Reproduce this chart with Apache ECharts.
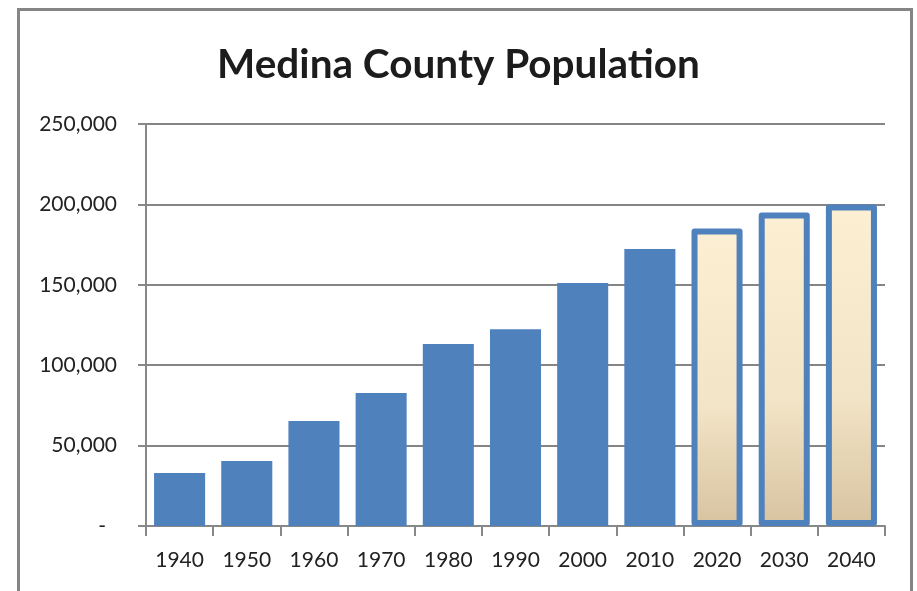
<!DOCTYPE html>
<html>
<head>
<meta charset="utf-8">
<script src="https://cdn.jsdelivr.net/npm/echarts@6/dist/echarts.min.js"></script>
<style>html,body{margin:0;padding:0;background:#fff;}#c{width:917px;height:591px;}</style>
</head>
<body>
<div id="c"></div>
<script>
var years = ['1940','1950','1960','1970','1980','1990','2000','2010','2020','2030','2040'];
var actual = [33034, 40417, 65315, 82717, 113150, 122354, 151095, 172332, null, null, null];
var projected = [null, null, null, null, null, null, null, null, 185000, 195000, 200000];
var yTicks = [0, 50000, 100000, 150000, 200000, 250000];

var chart = echarts.init(document.getElementById('c'));
var font = 'Lato';
chart.setOption({
  animation: false,
  backgroundColor: '#fff',
  title: {
    text: 'Medina County Population',
    left: 'center',
    top: 39,
    textStyle: {fontFamily: font, fontWeight: 'bold', fontSize: 40.5, color: '#1c1c1c'}
  },
  graphic: [{
    type: 'rect',
    shape: {x: 18.5, y: 9.5, width: 893, height: 600},
    style: {fill: 'none', stroke: '#858585', lineWidth: 3},
    silent: true
  }],
  grid: {left: 146, right: 32, top: 124, bottom: 65},
  xAxis: {
    type: 'category',
    data: years,
    axisLine: {lineStyle: {color: '#888', width: 2}},
    axisTick: {show: true, length: 10, lineStyle: {color: '#888', width: 2}},
    axisLabel: {fontFamily: font, fontSize: 21, color: '#222', margin: 24}
  },
  yAxis: {
    type: 'value',
    min: yTicks[0],
    max: yTicks[yTicks.length - 1],
    interval: yTicks[1] - yTicks[0],
    axisLine: {show: true, lineStyle: {color: '#888', width: 2}},
    axisTick: {show: true, length: 8, lineStyle: {color: '#888', width: 2}},
    splitLine: {lineStyle: {color: '#858585', width: 2}},
    axisLabel: {
      fontFamily: font, fontSize: 21, color: '#222', margin: 29,
      formatter: function (v) { return v === 0 ? '{d|-}' : v.toLocaleString('en-US'); },
      rich: {d: {fontFamily: font, fontSize: 21, color: '#222', padding: [0, 11, 0, 0]}}
    }
  },
  series: [{
    type: 'bar',
    data: actual,
    barCategoryGap: '24%',
    barGap: '-100%',
    itemStyle: {color: '#4F81BD'}
  }, {
    type: 'bar',
    data: projected,
    barCategoryGap: '24%',
    barGap: '-100%',
    itemStyle: {
      color: new echarts.graphic.LinearGradient(0, 0, 0, 1, [
        {offset: 0, color: '#FDEFD3'},
        {offset: 0.6, color: '#F2E4C6'},
        {offset: 1, color: '#D8C3A0'}
      ]),
      borderColor: '#4F81BD',
      borderWidth: 6,
      borderJoin: 'round'
    }
  }]
});
</script>
</body>
</html>
